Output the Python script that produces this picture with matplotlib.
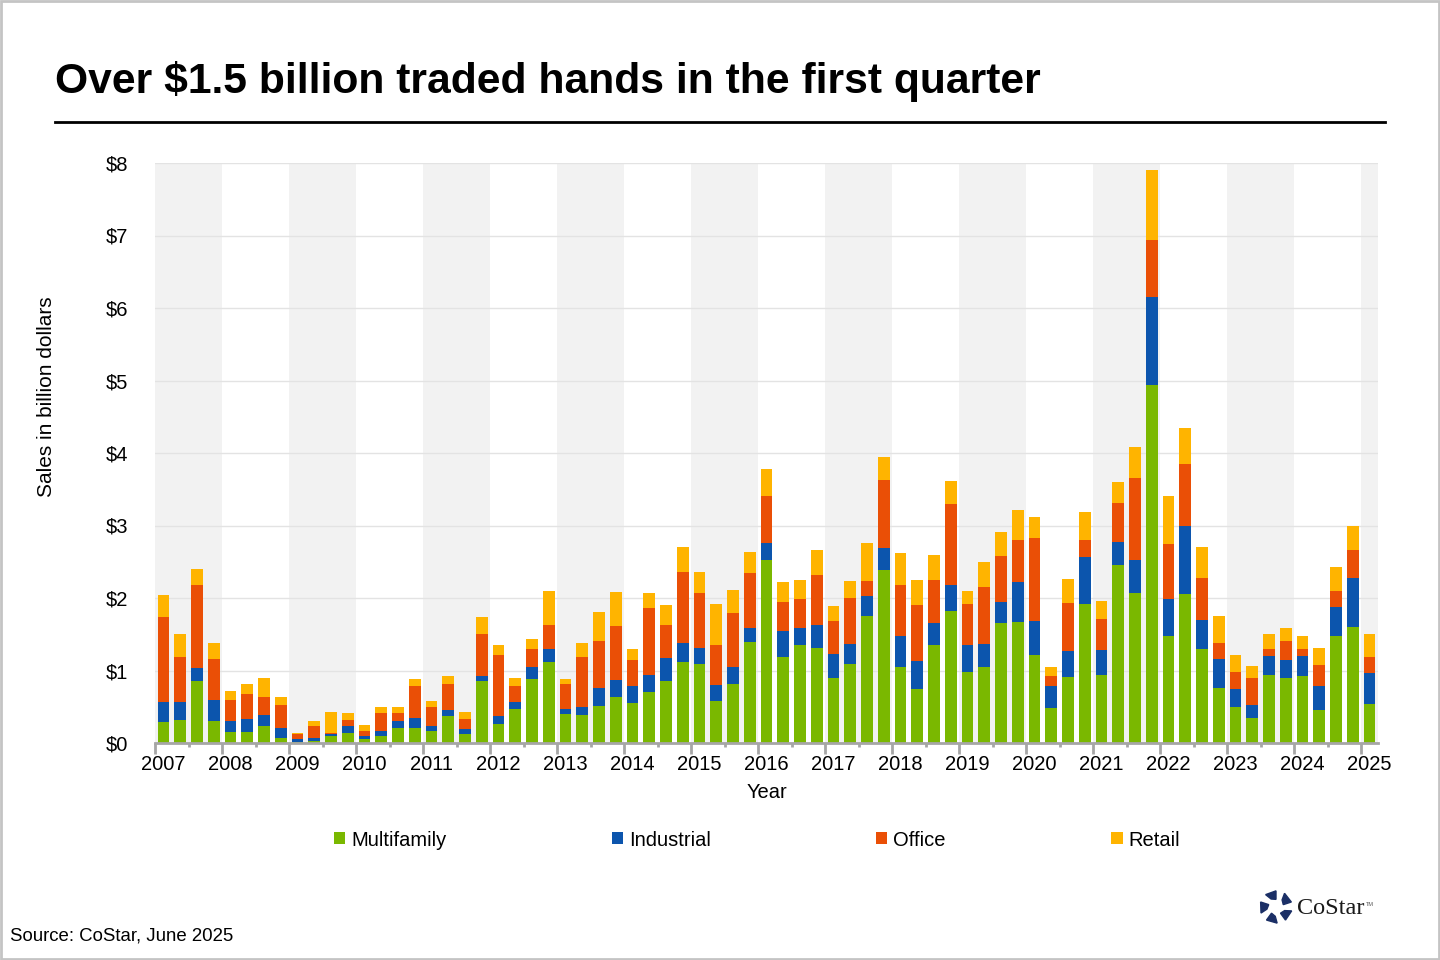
import numpy as np
import matplotlib.pyplot as plt
from matplotlib.patches import Patch, Polygon, Rectangle

plt.rcParams['font.family'] = ['Liberation Sans', 'DejaVu Sans']

# Quarterly sales, 2007 Q1 .. 2025 Q1, billions of dollars
years = list(range(2007, 2026))
multifamily = [0.29, 0.32, 0.86, 0.31, 0.15, 0.15, 0.23, 0.07,
               0.01, 0.03, 0.09, 0.14, 0.06, 0.10, 0.21, 0.21,
               0.17, 0.37, 0.12, 0.86, 0.26, 0.47, 0.88, 1.12,
               0.40, 0.39, 0.51, 0.63, 0.55, 0.70, 0.86, 1.12,
               1.09, 0.58, 0.81, 1.39, 2.52, 1.19, 1.35, 1.31,
               0.90, 1.09, 1.75, 2.39, 1.05, 0.74, 1.35, 1.82,
               0.98, 1.05, 1.66, 1.67, 1.21, 0.48, 0.91, 1.92,
               0.94, 2.45, 2.07, 4.94, 1.48, 2.05, 1.30, 0.76,
               0.50, 0.34, 0.94, 0.90, 0.93, 0.46, 1.48, 1.60,
               0.54]
industrial = [0.27, 0.24, 0.17, 0.28, 0.16, 0.18, 0.16, 0.14,
              0.05, 0.04, 0.04, 0.09, 0.04, 0.07, 0.10, 0.14,
              0.06, 0.09, 0.07, 0.07, 0.11, 0.10, 0.17, 0.18,
              0.07, 0.11, 0.25, 0.24, 0.24, 0.24, 0.31, 0.26,
              0.22, 0.22, 0.24, 0.20, 0.24, 0.35, 0.24, 0.32,
              0.33, 0.28, 0.28, 0.30, 0.43, 0.39, 0.31, 0.36,
              0.37, 0.32, 0.28, 0.55, 0.47, 0.31, 0.36, 0.65,
              0.34, 0.32, 0.46, 1.21, 0.51, 0.95, 0.40, 0.40,
              0.25, 0.19, 0.26, 0.25, 0.27, 0.33, 0.39, 0.68,
              0.42]
office = [1.18, 0.62, 1.15, 0.57, 0.29, 0.34, 0.24, 0.32,
          0.06, 0.17, 0.01, 0.09, 0.07, 0.24, 0.10, 0.43,
          0.27, 0.36, 0.14, 0.58, 0.84, 0.22, 0.25, 0.33,
          0.34, 0.69, 0.65, 0.74, 0.35, 0.92, 0.46, 0.98,
          0.76, 0.55, 0.74, 0.75, 0.65, 0.40, 0.40, 0.69,
          0.45, 0.63, 0.20, 0.94, 0.70, 0.77, 0.59, 1.12,
          0.57, 0.78, 0.64, 0.58, 1.15, 0.13, 0.66, 0.23,
          0.43, 0.54, 1.12, 0.79, 0.76, 0.85, 0.58, 0.22,
          0.23, 0.37, 0.10, 0.26, 0.10, 0.29, 0.22, 0.38,
          0.22]
retail = [0.30, 0.33, 0.22, 0.22, 0.12, 0.14, 0.26, 0.10,
          0.02, 0.07, 0.29, 0.10, 0.08, 0.08, 0.08, 0.10,
          0.08, 0.11, 0.10, 0.23, 0.14, 0.11, 0.13, 0.47,
          0.07, 0.19, 0.40, 0.47, 0.16, 0.21, 0.27, 0.34,
          0.29, 0.57, 0.32, 0.29, 0.37, 0.28, 0.26, 0.34,
          0.21, 0.23, 0.53, 0.31, 0.44, 0.35, 0.34, 0.31,
          0.18, 0.35, 0.33, 0.41, 0.29, 0.13, 0.33, 0.39,
          0.25, 0.29, 0.43, 0.96, 0.66, 0.50, 0.43, 0.37,
          0.24, 0.16, 0.21, 0.17, 0.17, 0.23, 0.34, 0.34,
          0.33]

series = [("Multifamily", multifamily, "#7ab800"),
          ("Industrial", industrial, "#0c55ad"),
          ("Office", office, "#ea4f06"),
          ("Retail", retail, "#ffb400")]

n = len(multifamily)
x = np.arange(n)

fig = plt.figure(figsize=(14.4, 9.6), dpi=100)
ax = fig.add_axes([155 / 1440, 1 - 743 / 960, 1223 / 1440, 580 / 960])

# alternating year bands
for i, yr in enumerate(years):
    if i % 2 == 0:
        ax.axvspan(4 * i - 0.5, 4 * i + 3.5, color="#f2f2f2", zorder=0, lw=0)

bottom = np.zeros(n)
for name, vals, col in series:
    ax.bar(x, vals, bottom=bottom, width=0.7, color=col, zorder=3, label=name)
    bottom += np.array(vals)

ax.set_xlim(-0.5, n - 0.5)
ax.set_ylim(0, 8)
ax.set_yticks(range(0, 9))
ax.set_yticklabels([f"${v}" for v in range(0, 9)], fontsize=14.5)
ax.yaxis.grid(True, color="#e3e3e3", lw=1, zorder=1)
ax.tick_params(axis="y", length=0, pad=19)

# tick marks at year boundaries and mid-year
ax.set_xticks([4 * i - 0.5 for i in range(len(years))])
ax.set_xticklabels([])
ax.set_xticks([4 * i + 1.5 for i in range(len(years) - 1)], minor=True)
ax.tick_params(axis="x", which="major", length=8, width=2, color="#a6a6a6")
ax.tick_params(axis="x", which="minor", length=3, width=2, color="#a6a6a6")

lab = ax.secondary_xaxis("bottom")
lab.set_xticks([4 * i for i in range(len(years))])
lab.set_xticklabels([str(y) for y in years], fontsize=14.5)
lab.tick_params(length=0, pad=9)
lab.spines["bottom"].set_visible(False)

for s in ["top", "right", "left"]:
    ax.spines[s].set_visible(False)
ax.spines["bottom"].set_color("#a6a6a6")
ax.spines["bottom"].set_linewidth(2)
ax.spines["bottom"].set_zorder(4)

fig.text(767 / 1440, 1 - 792 / 960, "Year", fontsize=14.5, ha="center", va="center")
fig.text(47 / 1440, 1 - 397 / 960, "Sales in billion dollars", fontsize=15,
         rotation=90, ha="center", va="center")

# title and rule
fig.text(55 / 1440, 1 - 81 / 960, "Over $1.5 billion traded hands in the first quarter",
         fontsize=30.7, fontweight="bold", ha="left", va="center")
fig.add_artist(plt.Line2D([55 / 1440, 1385 / 1440], [1 - 122 / 960, 1 - 122 / 960],
                          color="black", lw=2))

handles = [Patch(facecolor=c, label=nm) for nm, _, c in series]
fig.legend(handles=handles, loc="center", bbox_to_anchor=(757 / 1440, 1 - 840 / 960),
           ncol=4, frameon=False, fontsize=14.5, handlelength=0.55, handleheight=0.55,
           handletextpad=0.3, columnspacing=8.22)

fig.text(10 / 1440, 1 - 936 / 960, "Source: CoStar, June 2025", fontsize=13.4,
         ha="left", va="center")

# CoStar logo
lg = fig.add_axes([1259 / 1440, 1 - 924 / 960, 34 / 1440, 34 / 960])
lg.set_xlim(-1, 1)
lg.set_ylim(-1, 1)
lg.axis("off")
navy = "#1b2f66"
for k in range(5):
    a = np.deg2rad(90 + 72 * k)
    a2 = a + np.deg2rad(40)
    pts = [(0.45 * np.cos(a), 0.45 * np.sin(a)),
           (0.95 * np.cos(a), 0.95 * np.sin(a)),
           (0.95 * np.cos(a2), 0.95 * np.sin(a2)),
           (0.55 * np.cos(a2 - 0.15), 0.55 * np.sin(a2 - 0.15))]
    lg.add_patch(Polygon(pts, closed=True, color=navy))
fig.text(1297 / 1440, 1 - 908 / 960, "CoStar", fontsize=17.5, family="Liberation Serif",
         color="#1a1a1a", ha="left", va="center")
fig.text(1366 / 1440, 1 - 904 / 960, "TM", fontsize=4, color="#555555", ha="left", va="center")

fig.add_artist(Rectangle((0.0005, 0.0008), 0.999, 0.9985, transform=fig.transFigure,
                         fill=False, edgecolor="#c4c4c4", lw=2))

fig.savefig("out.png", dpi=100)
